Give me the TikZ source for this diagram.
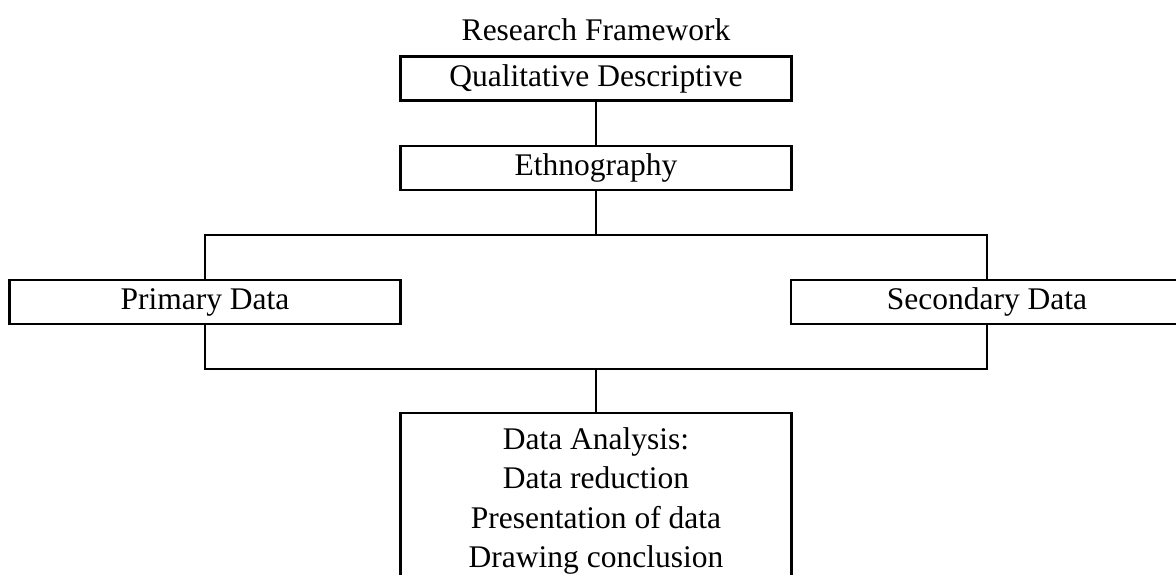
\documentclass[tikz,border=0pt]{standalone}
\usepackage{fontspec}
\setmainfont{Liberation Serif}
\usepackage{tikz}
\usetikzlibrary{arrows.meta,positioning,calc}
\definecolor{LineBlack}{RGB}{0,0,0}

\begin{document}
\begin{tikzpicture}[x=1pt, y=-1pt,
    box/.style={draw=LineBlack, line width=2.6pt, minimum width=391pt, minimum height=44pt,
      inner sep=0pt, font=\fontsize{31.5}{39.5}\selectfont, align=center},
    link/.style={draw=LineBlack, line width=2.6pt}]
      \clip (0,0) rectangle (1176,575);
      \node[font=\fontsize{31.5}{39.5}\selectfont] (title) at (596,30) {Research Framework};
      \node[box] (qual) at (596,78.5) {Qualitative Descriptive};
      \node[box] (ethno) at (596,168) {Ethnography};
      \node[box] (primary) at (205,302) {Primary Data};
      \node[box, minimum width=392pt] (secondary) at (987,302) {Secondary Data};
      \node[box, minimum height=176pt] (analysis) at (596,501)
        {Data Analysis:\\Data reduction\\Presentation of data\\Drawing conclusion};
      \coordinate (jtop) at (596,235);
      \coordinate (jbot) at (596,369);
      \draw[link] (qual.south) -- (ethno.north);
      \draw[link] (ethno.south) -- (jtop);
      \draw[link] (primary.north) |- (jtop) -| (secondary.north);
      \draw[link] (primary.south) |- (jbot) -| (secondary.south);
      \draw[link] (jbot) -- (analysis.north);
    \end{tikzpicture}
\end{document}
